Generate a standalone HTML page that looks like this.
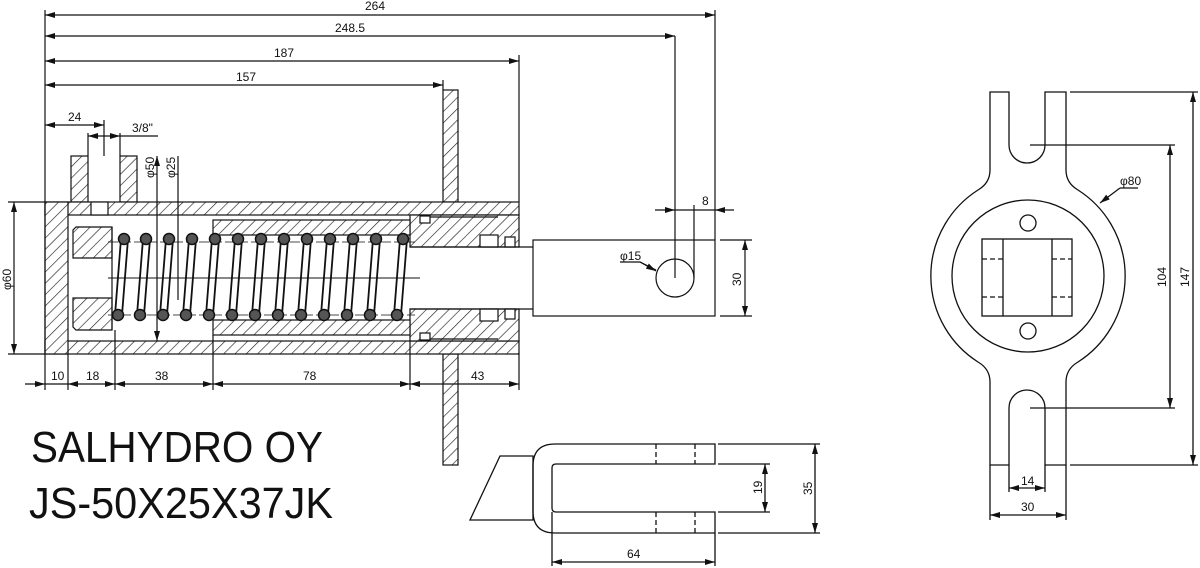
<!DOCTYPE html>
<html><head><meta charset="utf-8"><style>
html,body{margin:0;padding:0;background:#fff;}
svg{display:block;}
text{font-family:"Liberation Sans Narrow","Liberation Sans",sans-serif;fill:#111;}
</style></head><body>
<svg width="1200" height="568" viewBox="0 0 1200 568" xmlns="http://www.w3.org/2000/svg">
<defs>
<pattern id="h" patternUnits="userSpaceOnUse" width="8" height="8" patternTransform="rotate(45)">
<rect width="8" height="8" fill="#fff"/><line x1="0" y1="0" x2="0" y2="8" stroke="#222" stroke-width="1.3"/>
</pattern>
<marker id="a" viewBox="0 0 10 6" refX="10" refY="3" markerWidth="10" markerHeight="6" orient="auto-start-reverse" markerUnits="userSpaceOnUse"><path d="M0,0 L10,3 L0,6z" fill="#111"/></marker>
<g id="coil">
<line x1="-3" y1="0" x2="-9" y2="76" stroke="#111" stroke-width="1.8"/>
<line x1="4" y1="0" x2="-2" y2="76" stroke="#111" stroke-width="1.8"/>
<circle cx="0" cy="0" r="5.5" fill="#555" stroke="#111" stroke-width="1.5"/>
<circle cx="-6" cy="76" r="5.5" fill="#555" stroke="#111" stroke-width="1.5"/>
</g>
</defs>
<g stroke="#111" stroke-width="1.2" fill="none">
<!-- flange plate -->
<rect x="443" y="90" width="15" height="112" fill="url(#h)"/>
<rect x="443" y="354" width="15" height="111" fill="url(#h)"/>
<!-- port -->
<rect x="71" y="156" width="17" height="46" fill="url(#h)"/>
<rect x="120" y="156" width="17" height="46" fill="url(#h)"/>
<!-- body walls -->
<rect x="45" y="202" width="474" height="13" fill="url(#h)"/>
<rect x="45" y="341" width="474" height="13" fill="url(#h)"/>
<rect x="45" y="202" width="23" height="152" fill="url(#h)"/>
<rect x="91" y="202" width="17" height="13" fill="#fff"/>
<!-- end block -->
<rect x="410" y="215" width="109" height="32" fill="url(#h)"/>
<rect x="410" y="309" width="109" height="32" fill="url(#h)"/>
<line x1="430" y1="217" x2="498" y2="217"/><line x1="430" y1="339" x2="498" y2="339"/>
<rect x="420" y="216" width="10" height="7" fill="#fff"/><rect x="420" y="333" width="10" height="7" fill="#fff"/>
<rect x="480" y="235" width="18" height="12" fill="#fff"/><rect x="480" y="309" width="18" height="12" fill="#fff"/>
<rect x="505" y="237" width="10" height="10" fill="#fff"/><rect x="505" y="309" width="10" height="10" fill="#fff"/>
<!-- sleeve -->
<rect x="213" y="220" width="197" height="15" fill="url(#h)"/>
<rect x="213" y="320" width="197" height="15" fill="url(#h)"/>
<!-- piston -->
<path d="M76,227 H112 V258 H73 V230 Z" fill="url(#h)"/>
<path d="M73,298 H112 V330 H76 L73,327 Z" fill="url(#h)"/>
<line x1="112" y1="227" x2="112" y2="330"/>
<!-- centerlines -->
<line x1="108" y1="278" x2="420" y2="278" stroke-width="1"/>
<line x1="108" y1="242" x2="415" y2="242" stroke-width="0.8" stroke-dasharray="10 3"/>
<line x1="108" y1="315" x2="415" y2="315" stroke-width="0.8" stroke-dasharray="10 3"/>
<!-- rod -->
<line x1="410" y1="247" x2="533" y2="247"/><line x1="410" y1="309" x2="533" y2="309"/>
<rect x="533" y="240" width="182" height="76"/>
<circle cx="675" cy="278" r="19"/>
<line x1="675" y1="278" x2="675" y2="36"/>
<line x1="694" y1="278" x2="694" y2="205"/>
<line x1="715" y1="240" x2="715" y2="10"/>
<line x1="519" y1="202" x2="519" y2="55"/>
<line x1="443" y1="90" x2="443" y2="80"/>
<line x1="45" y1="10" x2="45" y2="390"/>
<line x1="720" y1="240" x2="752" y2="240"/><line x1="720" y1="316" x2="752" y2="316"/>
<line x1="745" y1="240" x2="745" y2="316" marker-start="url(#a)" marker-end="url(#a)"/>
<line x1="655" y1="210" x2="675" y2="210" marker-end="url(#a)"/>
<line x1="734" y1="210" x2="715" y2="210" marker-end="url(#a)"/>
<line x1="675" y1="210" x2="715" y2="210"/>
<path d="M620,262 H640 L656,270" /><line x1="640" y1="262" x2="656" y2="271" marker-end="url(#a)"/>
<!-- top dims -->
<line x1="45" y1="15" x2="715" y2="15" marker-start="url(#a)" marker-end="url(#a)"/>
<line x1="45" y1="36" x2="675" y2="36" marker-start="url(#a)" marker-end="url(#a)"/>
<line x1="45" y1="61" x2="519" y2="61" marker-start="url(#a)" marker-end="url(#a)"/>
<line x1="45" y1="85" x2="443" y2="85" marker-start="url(#a)" marker-end="url(#a)"/>
<line x1="45" y1="125" x2="104" y2="125" marker-start="url(#a)" marker-end="url(#a)"/>
<line x1="104" y1="120" x2="104" y2="156"/>
<line x1="88" y1="133" x2="88" y2="156"/><line x1="120" y1="133" x2="120" y2="156"/>
<line x1="88" y1="136" x2="120" y2="136" marker-start="url(#a)" marker-end="url(#a)"/>
<line x1="120" y1="136" x2="158" y2="136"/>
<line x1="157" y1="156" x2="157" y2="341" marker-start="url(#a)" marker-end="url(#a)"/>
<line x1="178" y1="156" x2="178" y2="300"/>
<!-- phi60 -->
<line x1="8" y1="202" x2="45" y2="202"/><line x1="8" y1="354" x2="45" y2="354"/>
<line x1="14" y1="202" x2="14" y2="354" marker-start="url(#a)" marker-end="url(#a)"/>
<!-- bottom dims -->
<line x1="68" y1="354" x2="68" y2="390"/><line x1="115" y1="330" x2="115" y2="390"/>
<line x1="213" y1="335" x2="213" y2="390"/><line x1="410" y1="341" x2="410" y2="390"/><line x1="519" y1="354" x2="519" y2="390"/>
<line x1="25" y1="384" x2="45" y2="384" marker-end="url(#a)"/>
<line x1="45" y1="384" x2="68" y2="384"/>
<line x1="68" y1="384" x2="115" y2="384" marker-start="url(#a)" marker-end="url(#a)"/>
<line x1="115" y1="384" x2="213" y2="384" marker-start="url(#a)" marker-end="url(#a)"/>
<line x1="213" y1="384" x2="410" y2="384" marker-start="url(#a)" marker-end="url(#a)"/>
<line x1="410" y1="384" x2="519" y2="384" marker-start="url(#a)" marker-end="url(#a)"/>
</g>
<!-- coils -->
<g>
<use href="#coil" x="124" y="239"/><use href="#coil" x="146" y="239"/><use href="#coil" x="169" y="239"/>
<use href="#coil" x="192" y="239"/><use href="#coil" x="215" y="239"/><use href="#coil" x="238" y="239"/>
<use href="#coil" x="261" y="239"/><use href="#coil" x="284" y="239"/><use href="#coil" x="307" y="239"/>
<use href="#coil" x="330" y="239"/><use href="#coil" x="353" y="239"/><use href="#coil" x="376" y="239"/>
<use href="#coil" x="403" y="239"/>
</g>
<!-- right view -->
<g stroke="#111" stroke-width="1.3" fill="none">
<path d="M990,92 V170 Q990,183 978,190 A102,102 0 0 0 978,362 Q990,369 990,382 V465 H1009 V408 A18,18 0 0 1 1045,408 V465 H1066 V382 Q1066,369 1078,362 A102,102 0 0 0 1078,190 Q1066,183 1066,170 V92 H1045 V145 A18,18 0 0 1 1009,145 V92 Z" fill="#fff"/>
<circle cx="1028" cy="276" r="76"/>
<rect x="982" y="239" width="90" height="77"/>
<line x1="1003" y1="239" x2="1003" y2="316"/><line x1="1052" y1="239" x2="1052" y2="316"/>
<g stroke-dasharray="5 3"><line x1="982" y1="259" x2="1003" y2="259"/><line x1="982" y1="297" x2="1003" y2="297"/><line x1="1052" y1="259" x2="1072" y2="259"/><line x1="1052" y1="297" x2="1072" y2="297"/></g>
<circle cx="1028" cy="223" r="8"/><circle cx="1028" cy="331" r="8"/>
<line x1="1030" y1="145" x2="1175" y2="145"/><line x1="1030" y1="408" x2="1175" y2="408"/>
<line x1="1070" y1="92" x2="1198" y2="92"/><line x1="1070" y1="465" x2="1198" y2="465"/>
<line x1="1170" y1="145" x2="1170" y2="408" marker-start="url(#a)" marker-end="url(#a)"/>
<line x1="1193" y1="92" x2="1193" y2="465" marker-start="url(#a)" marker-end="url(#a)"/>
<line x1="1138" y1="188" x2="1120" y2="188"/><line x1="1120" y1="188" x2="1100" y2="203" marker-end="url(#a)"/>
<line x1="990" y1="465" x2="990" y2="520"/><line x1="1066" y1="465" x2="1066" y2="520"/>
<line x1="1009" y1="465" x2="1009" y2="492"/><line x1="1045" y1="465" x2="1045" y2="492"/>
<line x1="1009" y1="488" x2="1045" y2="488" marker-start="url(#a)" marker-end="url(#a)"/>
<line x1="990" y1="515" x2="1066" y2="515" marker-start="url(#a)" marker-end="url(#a)"/>
</g>
<!-- bottom clevis view -->
<g stroke="#111" stroke-width="1.3" fill="none">
<path d="M715,444 H555 Q533,444 533,466 V511 Q533,533 555,533 H715 V512 H556 Q552,512 552,508 V468 Q552,464 556,464 H715 Z" fill="#fff"/>
<path d="M500,456 H533 V520 H470 Z"/>
<g stroke-dasharray="5 3"><line x1="656" y1="444" x2="656" y2="464"/><line x1="695" y1="444" x2="695" y2="464"/><line x1="656" y1="512" x2="656" y2="533"/><line x1="695" y1="512" x2="695" y2="533"/></g>
<line x1="718" y1="464" x2="770" y2="464"/><line x1="718" y1="512" x2="770" y2="512"/>
<line x1="718" y1="444" x2="820" y2="444"/><line x1="718" y1="533" x2="820" y2="533"/>
<line x1="765" y1="464" x2="765" y2="512" marker-start="url(#a)" marker-end="url(#a)"/>
<line x1="815" y1="444" x2="815" y2="533" marker-start="url(#a)" marker-end="url(#a)"/>
<line x1="552" y1="512" x2="552" y2="566"/><line x1="715" y1="533" x2="715" y2="566"/>
<line x1="552" y1="562" x2="715" y2="562" marker-start="url(#a)" marker-end="url(#a)"/>
</g>
<!-- labels -->
<g font-size="12">
<text x="365" y="10">264</text>
<text x="335" y="32">248.5</text>
<text x="274" y="57">187</text>
<text x="236" y="81">157</text>
<text x="68" y="121">24</text>
<text x="132" y="132">3/8"</text>
<text transform="translate(154,178) rotate(-90)">φ50</text>
<text transform="translate(175,178) rotate(-90)">φ25</text>
<text transform="translate(11,290) rotate(-90)">φ60</text>
<text x="51" y="380">10</text><text x="86" y="380">18</text><text x="155" y="380">38</text><text x="303" y="380">78</text><text x="471" y="380">43</text>
<text x="702" y="205">8</text>
<text x="620" y="260">φ15</text>
<text transform="translate(741,286) rotate(-90)">30</text>
<text x="1120" y="185">φ80</text>
<text transform="translate(1166,287) rotate(-90)">104</text>
<text transform="translate(1189,287) rotate(-90)">147</text>
<text x="1021" y="485">14</text>
<text x="1021" y="511">30</text>
<text transform="translate(762,494) rotate(-90)">19</text>
<text transform="translate(812,495) rotate(-90)">35</text>
<text x="627" y="558">64</text>
</g>
<text x="31" y="462" font-size="44" textLength="292" lengthAdjust="spacingAndGlyphs" style="font-family:'Liberation Sans',sans-serif">SALHYDRO OY</text>
<text x="29" y="518" font-size="44" textLength="304" lengthAdjust="spacingAndGlyphs" style="font-family:'Liberation Sans',sans-serif">JS-50X25X37JK</text>
</svg>
</body></html>
